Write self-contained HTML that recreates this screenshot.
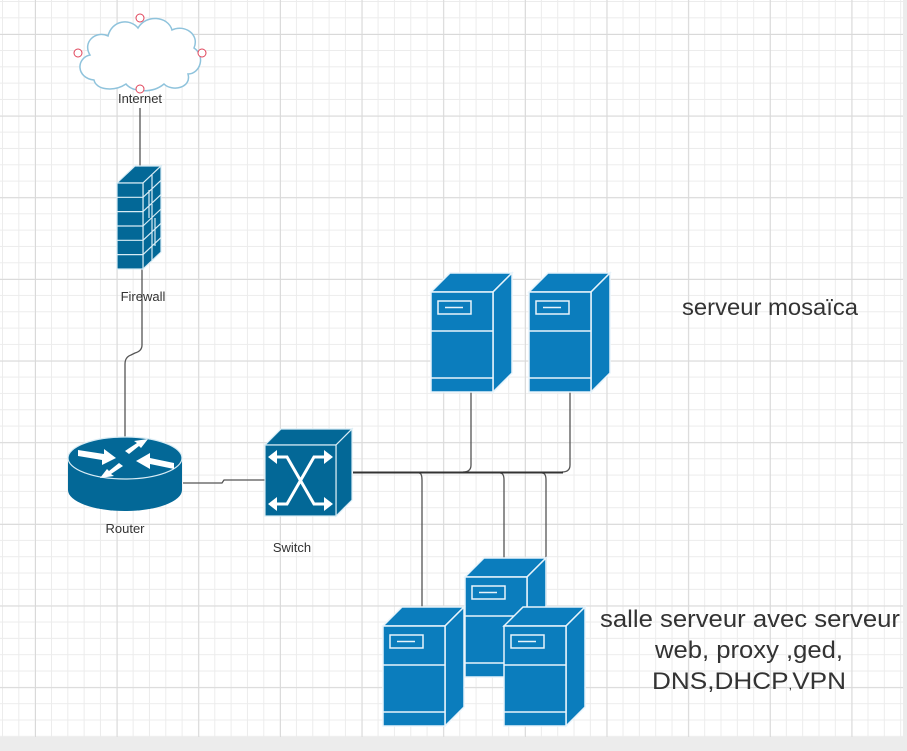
<!DOCTYPE html>
<html><head><meta charset="utf-8"><style>
html,body{margin:0;padding:0;width:907px;height:751px;overflow:hidden;background:#ececec}
svg{display:block}
text{font-family:"Liberation Sans",sans-serif;fill:#333}
</style></head><body>
<svg width="907" height="751" viewBox="0 0 907 751" xmlns="http://www.w3.org/2000/svg">
<defs>
<pattern id="minor" x="2" y="1" width="16.33" height="16.33" patternUnits="userSpaceOnUse">
<path d="M0.5 0V16.33M0 0.5H16.33" stroke="#ececec" stroke-width="1" fill="none" shape-rendering="crispEdges"/>
</pattern>
<pattern id="major" x="35" y="34" width="81.65" height="81.65" patternUnits="userSpaceOnUse">
<path d="M0.5 0V81.65M0 0.5H81.65" stroke="#d9d9d9" stroke-width="1" fill="none" shape-rendering="crispEdges"/>
</pattern>
<g id="srv">
<polygon points="0,19 19,0 81,0 62,19" fill="#0b7dbd" stroke="#e8f4fb" stroke-width="1.5"/>
<polygon points="62,19 81,0 81,100 62,119" fill="#0b7dbd" stroke="#e8f4fb" stroke-width="1.5"/>
<rect x="0" y="19" width="62" height="100" fill="#0b7dbd" stroke="#e8f4fb" stroke-width="1.5"/>
<rect x="7" y="28" width="33" height="13" fill="none" stroke="#e8f4fb" stroke-width="1.5"/>
<line x1="14" y1="34.5" x2="32" y2="34.5" stroke="#e8f4fb" stroke-width="1.5"/>
<line x1="0" y1="58" x2="62" y2="58" stroke="#e8f4fb" stroke-width="1.5"/>
<line x1="0" y1="105" x2="62" y2="105" stroke="#e8f4fb" stroke-width="1.5"/>
</g>
</defs>
<rect x="0" y="0" width="903" height="737" fill="#fff"/>
<rect x="0" y="0" width="903" height="737" fill="url(#minor)"/>
<rect x="0" y="0" width="903" height="737" fill="url(#major)"/>

<!-- cloud -->
<path d="M94,80 C76,78 76,58 90,55 C82,42 96,30 108,36 C112,20 130,18 138,28 C146,14 168,16 172,30 C184,24 200,34 194,48 C206,56 200,74 188,74 C192,88 172,92 164,84 C152,94 132,92 126,84 C114,92 96,90 94,80 Z" fill="#fff" stroke="#8fc3dc" stroke-width="1.5"/>
<g fill="#fff" stroke="#e0445a" stroke-width="1">
<circle cx="140" cy="18" r="4"/><circle cx="78" cy="53" r="4"/><circle cx="202" cy="53" r="4"/><circle cx="140" cy="89" r="4"/>
</g>
<text x="140" y="103" font-size="13" text-anchor="middle">Internet</text>

<!-- connectors -->
<g fill="none" stroke="#555" stroke-width="1.3">
<line x1="140" y1="108" x2="140" y2="166"/>
<path d="M142,269 V345 Q142,351 135,353 L131,355 Q125,357 125,364 V440"/>
<path d="M183,483 H222 L224,480 H265"/>
<path d="M471,392 V465 Q471,472 463,472"/>
<path d="M570,392 V465 Q570,472 562,472"/>
<path d="M419,473 Q422,473 422,480 V608"/>
<path d="M500,473 Q504,473 504,480 V560"/>
<path d="M542,473 Q546,473 546,480 V608"/>
</g>
<line x1="353" y1="472.5" x2="563" y2="472.5" stroke="#333" stroke-width="2"/>

<!-- firewall -->
<g stroke="#d8ecf5" stroke-width="1.2" fill="#036897">
<polygon points="117,183 135,166 161,166 143,183"/>
<polygon points="143,183 161,166 161,252 143,269"/>
<rect x="117" y="183" width="26" height="86"/>
<path d="M117,197.3H143M117,211.6H143M117,226H143M117,240.3H143M117,254.6H143" fill="none"/>
<path d="M143,197.3L161,180.3M143,211.6L161,194.6M143,226L161,209M143,240.3L161,223.3M143,254.6L161,237.6M152,175V203M152,204V232M152,232V260M149,190V218M155,218V246" fill="none"/>
</g>
<text x="143" y="301" font-size="13" text-anchor="middle">Firewall</text>

<!-- router -->
<path d="M68,458 V490 A57,21 0 0 0 182,490 V458 Z" fill="#036897"/>
<ellipse cx="125" cy="458" rx="57" ry="21" fill="#036897" stroke="#d8ecf5" stroke-width="1.2"/>
<g fill="#fff">
<polygon points="78,450 104,454 104,449 116,458 102,465 102,460 78,456"/>
<polygon points="125,451 137,443 134,441 148,439 141,448 139,446 129,454"/>
<polygon points="174,469 150,464 150,469 136,461 150,453 150,458 174,463"/>
<polygon points="123,466 111,474 114,476 100,478 107,469 109,471 119,463"/>
</g>
<text x="125" y="533" font-size="13" text-anchor="middle">Router</text>

<!-- switch -->
<g stroke="#d8ecf5" stroke-width="1.2" fill="#036897">
<polygon points="265,445 281,429 352,429 336,445"/>
<polygon points="336,445 352,429 352,500 336,516"/>
<rect x="265" y="445" width="71" height="71"/>
</g>
<g stroke="#fff" stroke-width="3" fill="none">
<path d="M272,457 H287 L314,504 H329"/>
<path d="M272,504 H287 L314,457 H329"/>
</g>
<g fill="#fff">
<polygon points="268,457 277,450 277,464"/><polygon points="333,457 324,450 324,464"/>
<polygon points="268,504 277,497 277,511"/><polygon points="333,504 324,497 324,511"/>
</g>
<text x="292" y="552" font-size="13" text-anchor="middle">Switch</text>

<!-- servers -->
<use href="#srv" x="431" y="273"/>
<use href="#srv" x="529" y="273"/>
<use href="#srv" x="465" y="558"/>
<use href="#srv" x="383" y="607"/>
<use href="#srv" x="504" y="607"/>

<text x="682" y="315" font-size="23" textLength="176" lengthAdjust="spacingAndGlyphs">serveur mosaïca</text>
<text x="600" y="627" font-size="24" textLength="300" lengthAdjust="spacingAndGlyphs">salle serveur avec serveur</text>
<text x="655" y="658" font-size="24" textLength="188" lengthAdjust="spacingAndGlyphs">web, proxy ,ged,</text>
<text x="652" y="689" font-size="24" textLength="194" lengthAdjust="spacingAndGlyphs">DNS,DHCP<tspan font-size="12">,</tspan>VPN</text>
</svg>
</body></html>
